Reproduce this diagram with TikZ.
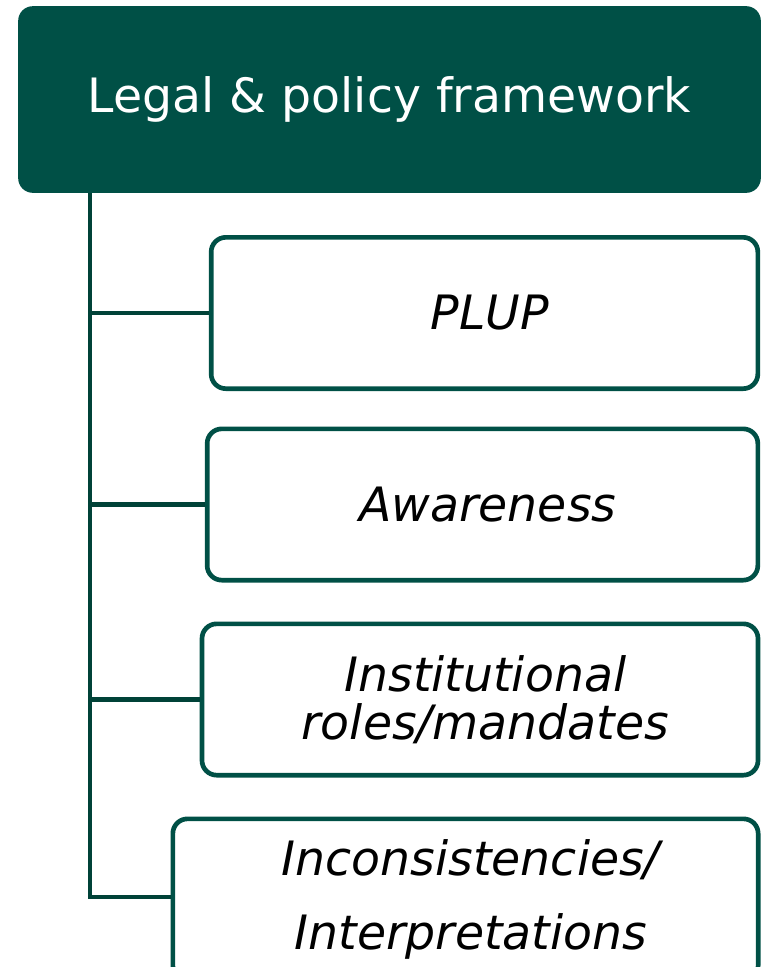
\documentclass[tikz,border=0pt]{standalone}
\usepackage{fontspec}
\setmainfont{DejaVu Sans}
\usetikzlibrary{positioning}
\definecolor{frame_green}{RGB}{0,80,70}
\definecolor{line_green}{RGB}{0,66,56}
\tikzset{
        treebox/.style={align=center,inner sep=0pt},
        % Header box
        box_head/.style={treebox, rectangle, rounded corners=11pt, fill=frame_green, text=white, minimum width=557pt, minimum height=140pt, font=\fontsize{35.5}{40}\selectfont},
        % Item boxes
        box_item/.style={treebox, rectangle, rounded corners=11pt, draw=frame_green, line width=3.5pt, fill=white, minimum height=113.5pt, font=\fontsize{35.5}{36}\selectfont\itshape},
        % Spine and branches
        line_branch/.style={draw=line_green, line width=3.5pt}
}

\begin{document}
\begin{tikzpicture}[x=0.75pt, y=-0.75pt]
            \clip (0,0) rectangle (763,967);
            \fill[white] (0,0) rectangle (763,967);
            \node[box_head] (head) at (389.5,99.5) {Legal \& policy framework};
            \node[box_item, minimum width=410pt] (plup) at (484.5,313) {\hspace{8pt}PLUP};
            \node[box_item, minimum width=413pt] (aware) at (482.5,504.5) {\hspace{8pt}Awareness};
            \node[box_item, minimum width=417pt] (roles) at (480,699.5) {\hspace{8pt}Institutional\\\hspace{8pt}roles/mandates};
            \node[box_item, minimum width=439pt, minimum height=121pt, font=\fontsize{35.5}{55}\selectfont\itshape] (incons) at (465.5,899.5) {\hspace{8pt}Inconsistencies/\\\hspace{8pt}Interpretations};
            \coordinate (spine) at (90,193);
            \draw[line_branch] (spine) |- ([yshift=1.9pt]incons.west);
            \draw[line_branch] (spine |- plup.west) -- (plup.west);
            \draw[line_branch] (spine |- aware.west) -- (aware.west);
            \draw[line_branch] (spine |- roles.west) -- (roles.west);
        \end{tikzpicture}
\end{document}
